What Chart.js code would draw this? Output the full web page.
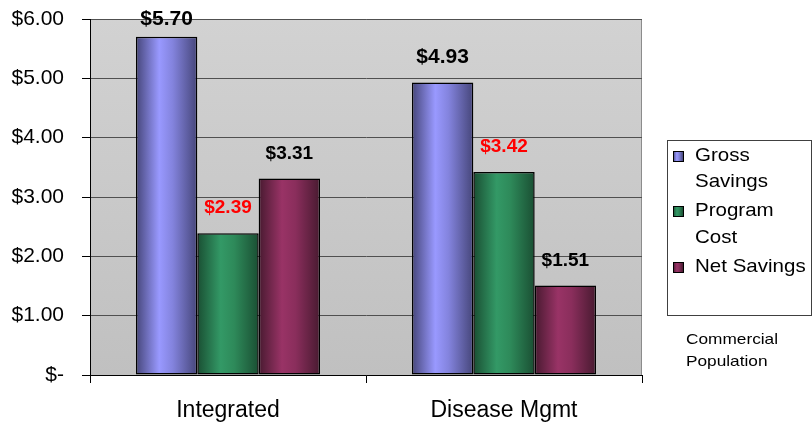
<!DOCTYPE html>
<html>
<head>
<meta charset="utf-8">
<script src="https://cdn.jsdelivr.net/npm/chart.js@4/dist/chart.umd.min.js"></script>
<style>
  html, body { margin: 0; padding: 0; background: #fff; }
  #wrap { width: 812px; height: 423px; position: relative; }
</style>
</head>
<body>
<div id="wrap"><canvas id="grafico"></canvas></div>
<script>
// datos del grafico
var categories = ['Integrated', 'Disease Mgmt'];
var grossSavings = [5.70, 4.93];
var programCost = [2.39, 3.42];
var netSavings = [3.31, 1.51];
var seriesNames = [['Gross', 'Savings'], ['Program', 'Cost'], ['Net Savings']];
var yTickValues = [0, 1, 2, 3, 4, 5, 6];
var footnote = ['Commercial', 'Population'];

var catPct = 0.667;
var FONT = 'Arial, "Liberation Sans", sans-serif';

// colores de cada serie: borde oscuro, centro claro
var shades = [
  { dark: '#46467a', light: '#9999ff', mid: '#8383dd', label: '#000000', size: 21 },
  { dark: '#1a4f33', light: '#339966', mid: '#2e8a5a', label: '#ff0000', size: 19 },
  { dark: '#481a30', light: '#993366', mid: '#8a2e5c', label: '#000000', size: 19 }
];

function gradiente(ctx, x0, x1, s) {
  var g = ctx.createLinearGradient(x0, 0, x1, 0);
  g.addColorStop(0, s.dark);
  g.addColorStop(0.38, s.light);
  g.addColorStop(0.6, s.mid);
  g.addColorStop(1, s.dark);
  return g;
}

function colorBarra(c) {
  var s = shades[c.datasetIndex];
  var chart = c.chart;
  var xs = chart.scales && chart.scales.x;
  if (c.type !== 'data' || !xs || !xs.width) return s.light;
  var cw = xs.width / categories.length;
  var gw = cw * catPct;
  var bw = gw / 3;
  var left = xs.getPixelForValue(c.dataIndex) - gw / 2 + c.datasetIndex * bw;
  return gradiente(chart.ctx, left, left + bw, s);
}

// fondo gris del area de trazado
var fondoPlugin = {
  id: 'fondo',
  beforeDraw: function (chart) {
    var a = chart.chartArea, ctx = chart.ctx;
    var g = ctx.createLinearGradient(0, a.top, 0, a.bottom);
    g.addColorStop(0, '#d2d2d2');
    g.addColorStop(1, '#c0c0c0');
    ctx.save();
    ctx.fillStyle = g;
    ctx.fillRect(a.left, a.top, a.right - a.left, a.bottom - a.top);
    ctx.strokeStyle = '#8c8c8c';
    ctx.lineWidth = 1;
    ctx.strokeRect(a.left + 0.5, a.top + 0.5, a.right - a.left - 1, a.bottom - a.top);
    ctx.restore();
  }
};

// etiquetas de valor sobre cada barra
var etiquetasPlugin = {
  id: 'etiquetas',
  afterDatasetsDraw: function (chart) {
    var ctx = chart.ctx;
    ctx.save();
    ctx.textAlign = 'center';
    ctx.textBaseline = 'middle';
    chart.data.datasets.forEach(function (ds, i) {
      var meta = chart.getDatasetMeta(i);
      ctx.font = 'bold ' + shades[i].size + 'px ' + FONT;
      ctx.fillStyle = shades[i].label;
      meta.data.forEach(function (bar, j) {
        var y = Math.max(bar.y - 25, 19);
        ctx.fillText('$' + ds.data[j].toFixed(2), bar.x, y);
      });
    });
    ctx.restore();
  }
};

// leyenda con recuadro y nota al pie
var leyendaPlugin = {
  id: 'leyenda',
  afterDraw: function (chart) {
    var ctx = chart.ctx;
    ctx.save();
    ctx.fillStyle = '#ffffff';
    ctx.fillRect(667, 140, 144, 175);
    ctx.strokeStyle = '#404040';
    ctx.lineWidth = 1;
    ctx.strokeRect(667.5, 140.5, 144, 175);
    var lineY = [[156, 182], [211, 238], [267]];
    ctx.textBaseline = 'middle';
    ctx.textAlign = 'left';
    seriesNames.forEach(function (lines, i) {
      var my = lineY[i][0];
      ctx.fillStyle = gradiente(ctx, 673, 683, shades[i]);
      ctx.fillRect(673, my - 5, 10, 10);
      ctx.strokeStyle = '#000';
      ctx.strokeRect(673.5, my - 4.5, 10, 10);
      ctx.fillStyle = '#000';
      ctx.font = '19px ' + FONT;
      lines.forEach(function (t, k) {
        ctx.save();
        ctx.translate(695, lineY[i][k]);
        ctx.scale(1.08, 1);
        ctx.fillText(t, 0, 0);
        ctx.restore();
      });
    });
    ctx.font = '15px ' + FONT;
    footnote.forEach(function (t, k) {
      ctx.save();
      ctx.translate(686, 340 + k * 22);
      ctx.scale(1.15, 1);
      ctx.fillText(t, 0, 0);
      ctx.restore();
    });
    ctx.restore();
  }
};

var datasets = [grossSavings, programCost, netSavings].map(function (d, i) {
  return {
    label: seriesNames[i].join(' '),
    data: d,
    backgroundColor: colorBarra,
    borderColor: '#000000',
    borderWidth: 1.5,
    borderSkipped: false,
    categoryPercentage: catPct,
    barPercentage: 1.0
  };
});

var chart = new Chart(document.getElementById('grafico'), {
  type: 'bar',
  data: { labels: categories, datasets: datasets },
  plugins: [fondoPlugin, etiquetasPlugin, leyendaPlugin],
  options: {
    responsive: true,
    maintainAspectRatio: false,
    animation: false,
    layout: { padding: { left: 10, top: 19, right: 170, bottom: 0 } },
    plugins: { legend: { display: false }, tooltip: { enabled: false } },
    scales: {
      x: {
        grid: { drawOnChartArea: false, drawTicks: true, tickLength: 8, tickColor: '#000', offset: true },
        border: { color: '#000', width: 1 },
        ticks: { color: '#000', font: { family: FONT, size: 23 }, padding: 14 },
        afterFit: function (s) { s.height = 48; s.paddingLeft = 0; s.paddingRight = 0; }
      },
      y: {
        min: 0,
        max: 6,
        afterBuildTicks: function (s) { s.ticks = yTickValues.map(function (v) { return { value: v }; }); },
        grid: { color: '#505050', lineWidth: 1, tickLength: 8, tickColor: '#000' },
        border: { color: '#000', width: 1 },
        ticks: {
          color: '#000',
          font: { family: FONT, size: 21 },
          padding: 18,
          callback: function (v) { return v === 0 ? '$-' : '$' + Number(v).toFixed(2); }
        },
        afterFit: function (s) { s.width = 80; s.paddingTop = 0; s.paddingBottom = 0; }
      }
    }
  }
});
</script>
</body>
</html>
